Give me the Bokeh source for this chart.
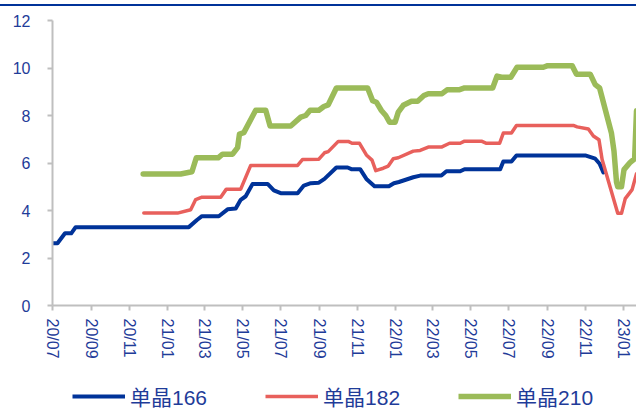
from datetime import datetime
import pandas as pd
from bokeh.plotting import figure
from bokeh.models import (Range1d, FixedTicker, DatetimeTickFormatter, Legend, LegendItem, Div, Column)
from bokeh.embed import file_html
from bokeh.resources import INLINE

# ---- data ----
dates_166 = ["2020-07-01", "2020-07-09", "2020-07-21", "2020-07-31", "2020-08-07", "2021-02-04",
             "2021-02-17", "2021-02-25", "2021-03-24", "2021-04-07", "2021-04-20", "2021-04-28",
             "2021-05-06", "2021-05-17", "2021-06-10", "2021-06-20", "2021-07-01", "2021-07-28",
             "2021-08-07", "2021-08-18", "2021-08-31", "2021-09-09", "2021-09-28", "2021-10-16",
             "2021-10-22", "2021-11-05", "2021-11-15", "2021-11-28", "2021-12-21", "2021-12-29",
             "2022-01-06", "2022-01-29", "2022-02-09", "2022-03-15", "2022-03-23", "2022-04-14",
             "2022-04-21", "2022-06-17", "2022-06-22", "2022-07-05", "2022-07-13", "2022-10-31",
             "2022-11-16", "2022-11-23", "2022-11-29"]
mono_166 = [2.62, 2.62, 3.04, 3.04, 3.30, 3.30,
            3.60, 3.76, 3.76, 4.05, 4.08, 4.45,
            4.60, 5.12, 5.12, 4.85, 4.73, 4.73,
            5.05, 5.15, 5.17, 5.33, 5.81, 5.81,
            5.74, 5.74, 5.33, 5.02, 5.02, 5.15,
            5.20, 5.40, 5.47, 5.47, 5.65, 5.65,
            5.74, 5.74, 6.06, 6.06, 6.32, 6.32,
            6.18, 5.97, 5.60]

dates_182 = ["2020-11-24", "2021-01-17", "2021-02-07", "2021-02-15", "2021-02-25", "2021-03-27",
             "2021-04-05", "2021-04-28", "2021-05-14", "2021-07-28", "2021-08-05", "2021-08-31",
             "2021-09-09", "2021-09-15", "2021-10-01", "2021-10-17", "2021-10-23", "2021-11-04",
             "2021-11-15", "2021-11-24", "2021-11-30", "2021-12-12", "2021-12-20", "2021-12-28",
             "2022-01-05", "2022-01-29", "2022-02-09", "2022-02-22", "2022-03-15", "2022-03-28",
             "2022-04-14", "2022-04-21", "2022-05-18", "2022-05-26", "2022-06-16", "2022-06-22",
             "2022-07-05", "2022-07-13", "2022-10-12", "2022-10-18", "2022-11-05", "2022-11-13",
             "2022-11-22", "2022-11-27", "2022-12-22", "2022-12-28", "2023-01-03", "2023-01-14",
             "2023-01-21"]
mono_182 = [3.89, 3.89, 4.03, 4.46, 4.56, 4.56,
            4.90, 4.90, 5.90, 5.90, 6.15, 6.16,
            6.43, 6.48, 6.91, 6.91, 6.83, 6.83,
            6.34, 6.12, 5.68, 5.78, 5.87, 6.18,
            6.22, 6.50, 6.53, 6.67, 6.67, 6.83,
            6.83, 6.92, 6.92, 6.83, 6.83, 7.26,
            7.26, 7.58, 7.58, 7.52, 7.43, 7.14,
            6.98, 6.15, 3.88, 3.88, 4.50, 4.88,
            5.55]

dates_210 = ["2020-11-23", "2021-01-22", "2021-02-09", "2021-02-16", "2021-03-23", "2021-03-30",
             "2021-04-15", "2021-04-23", "2021-04-26", "2021-05-03", "2021-05-22", "2021-06-07",
             "2021-06-14", "2021-07-17", "2021-08-02", "2021-08-10", "2021-08-17", "2021-08-31",
             "2021-09-08", "2021-09-15", "2021-09-28", "2021-11-17", "2021-11-25", "2021-12-01",
             "2021-12-09", "2021-12-16", "2021-12-22", "2021-12-31", "2022-01-05", "2022-01-13",
             "2022-01-26", "2022-02-05", "2022-02-15", "2022-02-22", "2022-03-16", "2022-03-24",
             "2022-04-12", "2022-04-21", "2022-06-05", "2022-06-12", "2022-06-19", "2022-07-04",
             "2022-07-14", "2022-08-25", "2022-09-01", "2022-10-10", "2022-10-17", "2022-11-08",
             "2022-11-16", "2022-11-23", "2022-12-12", "2022-12-16", "2022-12-20", "2022-12-22",
             "2022-12-28", "2023-01-01", "2023-01-11", "2023-01-18", "2023-01-21"]
mono_210 = [5.54, 5.54, 5.63, 6.22, 6.22, 6.37,
            6.37, 6.65, 7.22, 7.28, 8.22, 8.22,
            7.56, 7.56, 7.93, 8.00, 8.22, 8.22,
            8.38, 8.45, 9.16, 9.16, 8.62, 8.56,
            8.21, 8.00, 7.72, 7.72, 8.14, 8.43,
            8.60, 8.60, 8.84, 8.92, 8.92, 9.08,
            9.08, 9.16, 9.16, 9.66, 9.61, 9.61,
            10.03, 10.03, 10.10, 10.10, 9.74, 9.74,
            9.30, 9.16, 7.25, 6.50, 5.20, 5.00,
            5.00, 5.72, 6.03, 6.18, 8.20]

tick_months = ["2020-07", "2020-09", "2020-11", "2021-01", "2021-03", "2021-05", "2021-07",
               "2021-09", "2021-11", "2022-01", "2022-03", "2022-05", "2022-07", "2022-09",
               "2022-11", "2023-01"]
y_ticks = [0, 2, 4, 6, 8, 10, 12]
series_names = ["单晶166", "单晶182", "单晶210"]

# ---- styling ----
BLUE = "#003399"
RED = "#E8605C"
GREEN = "#9BBB59"
TXT = "#1F3C99"
AXIS = "#BFBFBF"
FONT = "Liberation Sans, Noto Sans CJK SC"
STYLES = [dict(line_color=BLUE, line_width=4),
          dict(line_color=RED, line_width=3.5),
          dict(line_color=GREEN, line_width=5.5)]

def ms(d):
    return pd.Timestamp(d).value / 1e6

# ---- main chart ----
p = figure(width=636, height=364, output_backend="svg", toolbar_location=None,
           x_axis_type="datetime",
           x_range=Range1d(datetime(2020, 7, 1), datetime(2023, 1, 21)),
           y_range=Range1d(0, 12),
           min_border_left=52, min_border_right=0, min_border_top=14, min_border_bottom=65)
p.outline_line_color = None
p.xgrid.visible = False
p.ygrid.visible = False
p.background_fill_color = "white"
p.border_fill_color = "white"

series = [(dates_166, mono_166), (dates_182, mono_182), (dates_210, mono_210)]
for (d, v), st in zip(series, STYLES):
    p.line(pd.to_datetime(d), v, line_join="round", line_cap="round", **st)

xa = p.xaxis[0]
xa.ticker = FixedTicker(ticks=[ms(m + "-01") for m in tick_months])
xa.formatter = DatetimeTickFormatter(days="%y/%m", months="%y/%m", years="%y/%m")
xa.major_label_orientation = "vertical"
xa.major_label_text_font = FONT
xa.major_label_text_font_size = "16px"
xa.major_label_text_color = TXT
xa.major_label_standoff = 8
xa.axis_line_color = AXIS
xa.axis_line_width = 2
xa.major_tick_line_color = AXIS
xa.major_tick_line_width = 2
xa.major_tick_in = 0
xa.major_tick_out = 5
xa.minor_tick_line_color = None

ya = p.yaxis[0]
ya.ticker = FixedTicker(ticks=y_ticks)
ya.major_label_text_font = FONT
ya.major_label_text_font_size = "16px"
ya.major_label_text_color = TXT
ya.major_label_standoff = 17
ya.axis_line_color = AXIS
ya.axis_line_width = 2
ya.major_tick_line_color = AXIS
ya.major_tick_line_width = 2
ya.major_tick_in = 0
ya.major_tick_out = 5
ya.minor_tick_line_color = None

# ---- legend strip (legend keys only, no data drawn) ----
lg = figure(width=636, height=42, output_backend="svg", toolbar_location=None,
            x_range=Range1d(0, 1), y_range=Range1d(0, 1),
            x_axis_location=None, y_axis_location=None, min_border=0)
lg.outline_line_color = None
lg.grid.visible = False
lg.background_fill_color = "white"
lg.border_fill_color = "white"
items = []
for name, st in zip(series_names, STYLES):
    r = lg.line(x=[float("nan")], y=[float("nan")], **st)
    items.append(LegendItem(label=name, renderers=[r]))
legend = Legend(items=items, orientation="horizontal", location=(20, 1),
                glyph_width=53, glyph_height=20, label_standoff=5, spacing=58,
                padding=0, margin=0, border_line_color=None, background_fill_alpha=0,
                label_text_font=FONT, label_text_font_size="21px", label_text_color=TXT)
lg.add_layout(legend, "center")

top_line = Div(text="", width=636, height=2, margin=(4, 0, 0, 0),
               styles={"background-color": BLUE})
layout = Column(top_line, p, lg, spacing=0)

open("out.html", "w").write(file_html(layout, INLINE))
